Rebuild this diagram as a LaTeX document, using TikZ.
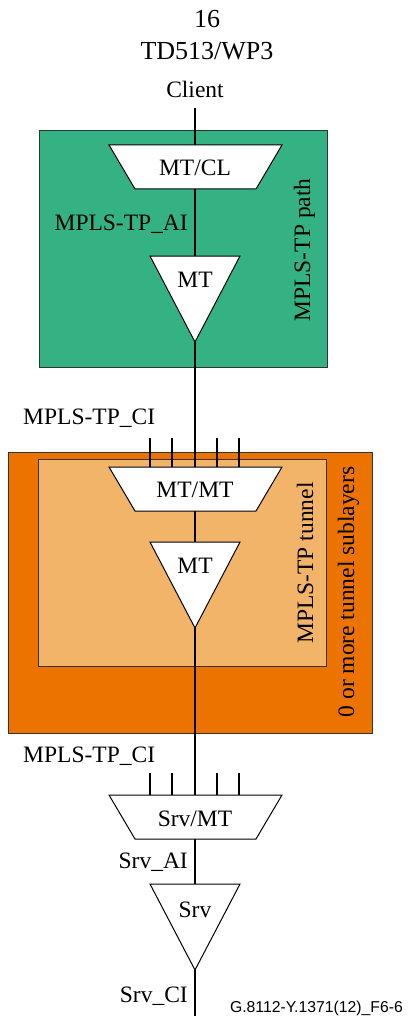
\documentclass[tikz,border=0pt]{standalone}
\usepackage{fontspec}
\setmainfont{Liberation Serif}
\newfontfamily\footfont{Liberation Sans}
\definecolor{pathgreen}{RGB}{52,178,131}
\definecolor{tundark}{RGB}{236,115,0}
\definecolor{tunlight}{RGB}{241,180,105}
\begin{document}
\begin{tikzpicture}[x=1pt,y=-1pt,
  lbl/.style={font=\fontsize{23.5}{26}\selectfont, inner sep=0pt, anchor=base},
  hdr/.style={font=\fontsize{26}{28}\selectfont, inner sep=0pt, anchor=base},
  vlbl/.style={lbl, rotate=90},
  boxnode/.style={draw=black!80, line width=0.9pt, inner sep=0pt, outer sep=0pt, anchor=north west},
  blk/.style={draw=black, fill=white, line width=1pt, line join=miter},
  sig/.style={line width=2.8pt},
  tick/.style={line width=1.2pt}]
\useasboundingbox (0,0) rectangle (407,1016);

% header
\node[hdr] (pg) at (207,28) {16};
\node[hdr] (td) at (207,60) {TD513/WP3};

% boxes
\node[boxnode, fill=pathgreen, minimum width=288pt, minimum height=237pt] (pathbox) at (39,130) {};
\node[boxnode, fill=tundark, minimum width=364pt, minimum height=281pt] (subbox) at (8,452) {};
\node[boxnode, fill=tunlight, minimum width=288pt, minimum height=207pt] (tunbox) at (38,459) {};

% coordinates
\coordinate (cl) at (195,108);
\coordinate (mtclT) at (195,145);
\coordinate (mtclB) at (195,189);
\coordinate (mt1T) at (195,256);
\coordinate (mt1B) at (195,342);
\coordinate (mtmtT) at (195,467);
\coordinate (mtmtB) at (195,511);
\coordinate (mt2T) at (195,542);
\coordinate (mt2B) at (195,628);
\coordinate (srvmtT) at (195,795);
\coordinate (srvmtB) at (195,839);
\coordinate (srvT) at (195,884);
\coordinate (srvB) at (195,970);
\coordinate (bot) at (195,1016);

% connectors
\draw[tick] (cl) -- (mtclT);
\draw[sig] (mtclB) -- (mt1T);
\draw[sig] (mt1B) -- (mtmtT);
\draw[sig] (mtmtB) -- (mt2T);
\draw[sig] (mt2B) -- (srvmtT);
\draw[sig] (srvmtB) -- (srvT);
\draw[sig] (srvB) -- (bot);

% CI ticks
\foreach \x in {150,172,217,239} {
  \draw[tick] (\x,438) -- (\x,467);
  \draw[tick] (\x,773) -- (\x,795);
}

% shapes
\draw[blk] (109,145) -- (282,145) -- (256,189) -- (135,189) -- cycle;
\draw[blk] (150,256) -- (240,256) -- (mt1B) -- cycle;
\draw[blk] (109,467) -- (282,467) -- (256,511) -- (135,511) -- cycle;
\draw[blk] (150,542) -- (240,542) -- (mt2B) -- cycle;
\draw[blk] (109,795) -- (282,795) -- (256,839) -- (135,839) -- cycle;
\draw[blk] (150,884) -- (240,884) -- (srvB) -- cycle;

% texts
\node[lbl] (client) at (195,98) {Client};
\node[lbl] (mtcl) at (195,176) {MT/CL};
\node[lbl, anchor=base east] (ai) at (188,230) {MPLS-TP\_AI};
\node[lbl] (mt1) at (195,287) {MT};
\node[vlbl] (pathlbl) at (310,250) {MPLS-TP path};
\node[lbl, anchor=base west] (ci1) at (23,424) {MPLS-TP\_CI};
\node[lbl] (mtmt) at (195,497) {MT/MT};
\node[lbl] (mt2) at (195,573) {MT};
\node[vlbl] (tunlbl) at (313,563) {MPLS-TP tunnel};
\node[vlbl] (sublbl) at (354,592) {0 or more tunnel sublayers};
\node[lbl, anchor=base west] (ci2) at (23,762) {MPLS-TP\_CI};
\node[lbl] (srvmt) at (195,826) {Srv/MT};
\node[lbl, anchor=base east] (srvai) at (188,868) {Srv\_AI};
\node[lbl] (srv) at (195,917) {Srv};
\node[lbl, anchor=base east] (srvci) at (188,1002) {Srv\_CI};
\node[inner sep=0pt, anchor=base east, font=\footfont\fontsize{15.75}{17}\selectfont] (fig) at (403,1012) {G.8112-Y.1371(12)\_F6-6};
\end{tikzpicture}
\end{document}
